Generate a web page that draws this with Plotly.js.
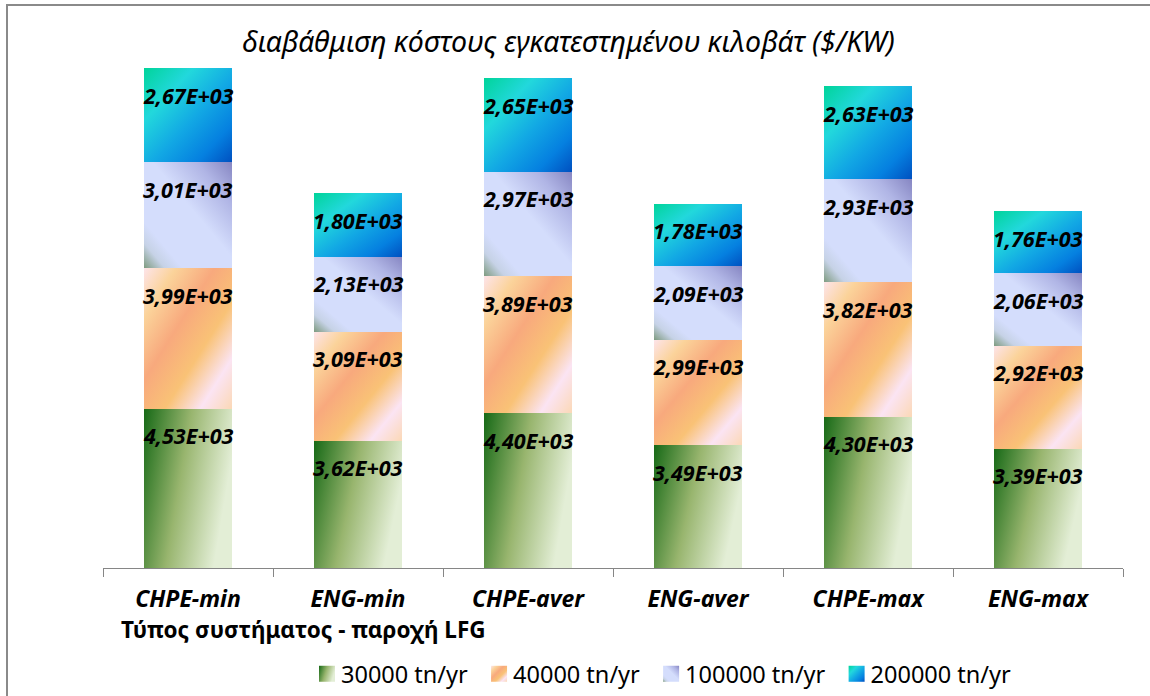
<!DOCTYPE html>
<html>
<head>
<meta charset="utf-8">
<script src="https://cdn.plot.ly/plotly-3.0.1.min.js"></script>
<style>
  html, body { margin: 0; padding: 0; background: #fff; }
  #wrap { position: relative; width: 1150px; height: 696px; overflow: hidden; }
  #chart { width: 1150px; height: 696px; }
  #frame { position: absolute; left: 6px; top: 4px; width: 1300px; height: 800px;
           border-left: 2px solid #8a8a8a; border-top: 2px solid #8a8a8a; pointer-events: none; }
</style>
</head>
<body>
<div id="wrap">
  <div id="chart"></div>
  <div id="frame"></div>
</div>
<script>
// System type / LFG supply categories
const categories = ['CHPE-min', 'ENG-min', 'CHPE-aver', 'ENG-aver', 'CHPE-max', 'ENG-max'];

// Installed-kilowatt cost ($/KW) per landfill capacity
const seriesNames = ['30000 tn/yr', '40000 tn/yr', '100000 tn/yr', '200000 tn/yr'];
const cost30000  = [4530, 3620, 4400, 3490, 4300, 3390];
const cost40000  = [3990, 3090, 3890, 2990, 3820, 2920];
const cost100000 = [3010, 2130, 2970, 2090, 2930, 2060];
const cost200000 = [2670, 1800, 2650, 1780, 2630, 1760];
const seriesValues = [cost30000, cost40000, cost100000, cost200000];

const chartTitle = 'διαβάθμιση κόστους εγκατεστημένου κιλοβάτ ($/KW)';
const xTitle = 'Τύπος συστήματος - παροχή LFG';

const FONT = 'Noto Sans, DejaVu Sans, sans-serif';

// gradient fills, one per series (objectBoundingBox units)
const gradients = [
  { id: 'grad30000', x1: 0, y1: 0, x2: 1, y2: 0.3,
    stops: [[0, '#166916'], [0.5, '#98b56e'], [1, '#e3eed6']] },
  { id: 'grad40000', x1: 0, y1: 0, x2: 1, y2: 1,
    stops: [[0, '#fde4ea'], [0.18, '#fbd39a'], [0.4, '#f8a97d'], [0.62, '#f9c276'], [0.82, '#fbe4f3'], [1, '#fbd8b6']] },
  { id: 'grad100000', x1: 0, y1: 1, x2: 1, y2: 0,
    stops: [[0, '#7d9a7e'], [0.12, '#c6d2e6'], [0.22, '#d4ddfc'], [0.55, '#d4ddfc'], [0.8, '#b0b5e5'], [1, '#8686c2']] },
  { id: 'grad200000', x1: 0, y1: 0, x2: 1, y2: 1,
    stops: [[0, '#00d49a'], [0.28, '#22d8dc'], [0.55, '#12a8e4'], [0.8, '#0580e0'], [1, '#0050c0']] }
];
const baseColors = ['#7fa85a', '#f9b986', '#c4cbf0', '#1aa8e0'];

function fmt(v) {
  return (v / 1000).toFixed(2).replace('.', ',') + 'E+03';
}

const traces = seriesValues.map((vals, i) => ({
  type: 'bar',
  name: seriesNames[i],
  x: categories,
  y: vals,
  width: 0.52,
  marker: { color: baseColors[i], line: { width: 0 } },
  hoverinfo: 'x+y+name'
}));

// value labels near the top of each stacked segment
const annotations = [];
const running = categories.map(() => 0);
seriesValues.forEach((vals) => {
  vals.forEach((v, j) => {
    running[j] += v;
    annotations.push({
      x: categories[j], y: running[j], xref: 'x', yref: 'y',
      text: fmt(v), showarrow: false, yanchor: 'middle', yshift: -27,
      font: { family: FONT, size: 21.5, color: '#000', weight: 'bold', style: 'italic' }
    });
  });
});

// x-axis title, set below the category labels on the left
annotations.push({
  x: 0.0157, y: -0.1174, xref: 'paper', yref: 'paper', xanchor: 'left', yanchor: 'middle',
  text: xTitle, showarrow: false,
  font: { family: FONT, size: 22.5, color: '#000', weight: 'bold' }
});

const layout = {
  width: 1150, height: 696,
  margin: { l: 103, r: 27, t: 40, b: 128 },
  paper_bgcolor: 'rgba(0,0,0,0)', plot_bgcolor: 'rgba(0,0,0,0)',
  barmode: 'stack',
  showlegend: true,
  title: {
    text: chartTitle, x: 0.4943, xref: 'container', xanchor: 'center',
    y: 1 - 42 / 696, yref: 'container', yanchor: 'middle',
    font: { family: FONT, size: 28.5, color: '#000', style: 'italic' }
  },
  xaxis: {
    type: 'category', range: [-0.5, 5.5],
    showline: true, linecolor: '#868686', linewidth: 1,
    ticks: 'outside', ticklen: 8, tickcolor: '#868686', tickwidth: 1,
    tickson: 'boundaries', showgrid: false, zeroline: false,
    ticklabelstandoff: 10,
    tickfont: { family: FONT, size: 23, color: '#000', weight: 'bold', style: 'italic' },
    fixedrange: true
  },
  yaxis: { visible: false, range: [0, 15000], fixedrange: true },
  legend: {
    orientation: 'h', traceorder: 'normal',
    x: 301 / 1150, xref: 'container', xanchor: 'left',
    y: 1 - 674 / 696, yref: 'container', yanchor: 'middle',
    font: { family: FONT, size: 23.5, color: '#000' },
    itemwidth: 30
  },
  annotations: annotations
};

const gd = document.getElementById('chart');
Plotly.newPlot(gd, traces, layout, { displayModeBar: false, staticPlot: true }).then(applyGradients);

function applyGradients() {
  const NS = 'http://www.w3.org/2000/svg';
  const svg = gd.querySelector('svg.main-svg');
  let defs = svg.querySelector('defs');
  if (!defs) { defs = document.createElementNS(NS, 'defs'); svg.insertBefore(defs, svg.firstChild); }
  gradients.forEach((g) => {
    const lg = document.createElementNS(NS, 'linearGradient');
    lg.setAttribute('id', g.id);
    lg.setAttribute('x1', g.x1); lg.setAttribute('y1', g.y1);
    lg.setAttribute('x2', g.x2); lg.setAttribute('y2', g.y2);
    g.stops.forEach(([o, c]) => {
      const s = document.createElementNS(NS, 'stop');
      s.setAttribute('offset', o);
      s.setAttribute('stop-color', c);
      lg.appendChild(s);
    });
    defs.appendChild(lg);
  });
  const traceIndex = (el) => {
    const d = el.__data__;
    return d && d[0] && d[0].trace ? d[0].trace.index : -1;
  };
  gd.querySelectorAll('.barlayer .trace').forEach((el) => {
    const i = traceIndex(el);
    if (i < 0) return;
    el.querySelectorAll('path').forEach((p) => { p.style.fill = 'url(#' + gradients[i].id + ')'; });
  });
  // legend swatches: 16px squares sitting just left of the entry text
  gd.querySelectorAll('.legend .traces').forEach((el) => {
    const i = traceIndex(el);
    if (i < 0) return;
    el.querySelectorAll('.legendpoints path').forEach((p) => {
      p.setAttribute('d', 'M14,8H-2V-8H14Z');
      p.style.fill = 'url(#' + gradients[i].id + ')';
    });
  });
}
</script>
</body>
</html>
